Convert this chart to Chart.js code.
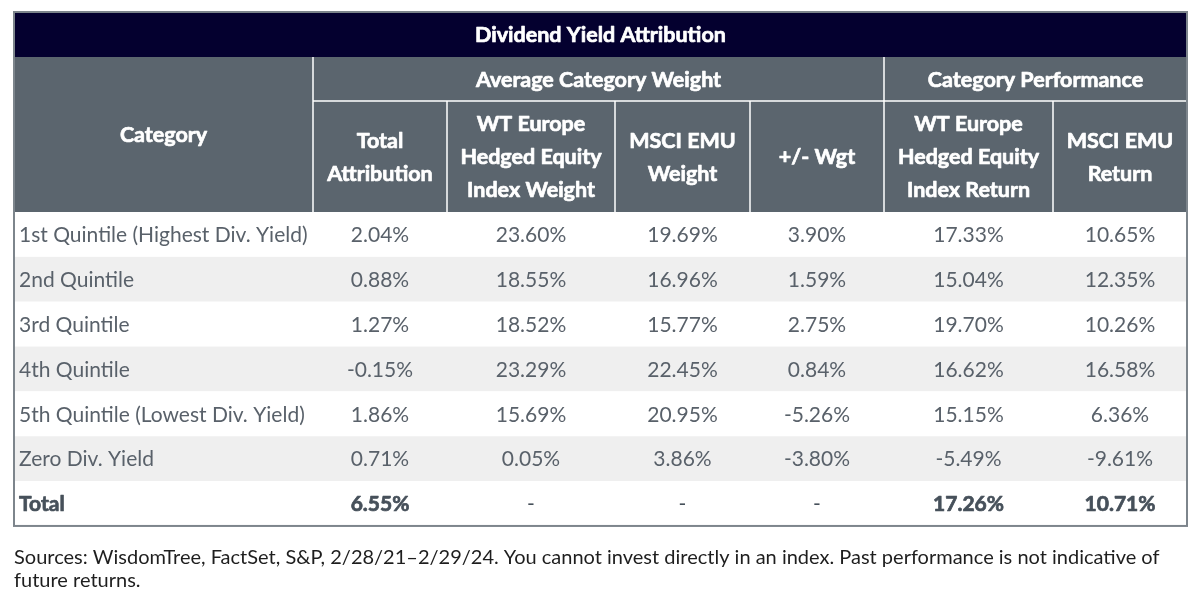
<!DOCTYPE html>
<html>
<head>
<meta charset="utf-8">
<script src="https://cdn.jsdelivr.net/npm/chart.js@4.4.1/dist/chart.umd.min.js"></script>
<style>
  html, body { margin: 0; padding: 0; background: #ffffff; }
  #wrap { position: relative; width: 1200px; height: 614px; }
</style>
</head>
<body>
<div id="wrap"><canvas id="attributionTable"></canvas></div>
<script>
// Table data
const categories = ['1st Quintile (Highest Div. Yield)', '2nd Quintile', '3rd Quintile', '4th Quintile', '5th Quintile (Lowest Div. Yield)', 'Zero Div. Yield'];
const totalAttribution = [2.04, 0.88, 1.27, -0.15, 1.86, 0.71];
const wtIndexWeight = [23.60, 18.55, 18.52, 23.29, 15.69, 0.05];
const msciWeight = [19.69, 16.96, 15.77, 22.45, 20.95, 3.86];
const wgtDiff = [3.90, 1.59, 2.75, 0.84, -5.26, -3.80];
const wtIndexReturn = [17.33, 15.04, 19.70, 16.62, 15.15, -5.49];
const msciReturn = [10.65, 12.35, 10.26, 16.58, 6.36, -9.61];
const totalRow = [6.55, null, null, null, 17.26, 10.71];

const tableTitle = 'Dividend Yield Attribution';
const groupHeaders = ['Average Category Weight', 'Category Performance'];
const columnHeaders = [
    ['Total', 'Attribution'],
    ['WT Europe', 'Hedged Equity', 'Index Weight'],
    ['MSCI EMU', 'Weight'],
    ['+/- Wgt'],
    ['WT Europe', 'Hedged Equity', 'Index Return'],
    ['MSCI EMU', 'Return']
];
const sourceLines = [
    'Sources: WisdomTree, FactSet, S&P, 2/28/21\u20132/29/24. You cannot invest directly in an index. Past performance is not indicative of',
    'future returns.'
];

const valueColumns = [totalAttribution, wtIndexWeight, msciWeight, wgtDiff, wtIndexReturn, msciReturn];

// Layout (in canvas units, mapped via the chart scales)
const layout = {
    left: 14, right: 1187, top: 12,
    titleBottom: 57, groupBottom: 101, headerBottom: 212,
    rowH: 44.85,
    colEdges: [14, 313, 447, 615, 750, 884, 1053, 1187],
    groupSplit: 884
};

const fontFamily = "Lato, 'Noto Sans', sans-serif";
const fmt = v => (v === null ? '-' : v.toFixed(2) + '%');

// bold text drawn with a thin outline to get a heavier weight
function heavyText(ctx, text, x, y, color) {
    ctx.fillStyle = color;
    ctx.strokeStyle = color;
    ctx.lineWidth = 0.7;
    ctx.lineJoin = 'round';
    ctx.strokeText(text, x, y);
    ctx.fillText(text, x, y);
}

const tablePlugin = {
    id: 'tablePlugin',
    afterDraw(chart) {
        const { ctx } = chart;
        const sx = chart.scales.x, sy = chart.scales.y;
        const X = v => sx.getPixelForValue(v);
        const Y = v => sy.getPixelForValue(v);
        const L = layout;
        const nRows = categories.length + 1;
        const tableBottom = L.headerBottom + L.rowH * nRows;

        ctx.save();
        // title bar
        ctx.fillStyle = '#04002f';
        ctx.fillRect(X(L.left), Y(L.top), X(L.right) - X(L.left), Y(L.titleBottom) - Y(L.top));
        // header block
        ctx.fillStyle = '#5b656e';
        ctx.fillRect(X(L.left), Y(L.titleBottom), X(L.right) - X(L.left), Y(L.headerBottom) - Y(L.titleBottom));

        // body rows
        for (let r = 0; r < nRows; r++) {
            ctx.fillStyle = r % 2 === 1 ? '#efefef' : '#ffffff';
            const y0 = Y(L.headerBottom + r * L.rowH);
            const y1 = Y(L.headerBottom + (r + 1) * L.rowH);
            ctx.fillRect(X(L.left), y0, X(L.right) - X(L.left), y1 - y0);
        }

        // header separators
        ctx.strokeStyle = '#ffffff';
        ctx.lineWidth = 1.5;
        ctx.beginPath();
        ctx.moveTo(X(L.colEdges[1]), Y(L.titleBottom));
        ctx.lineTo(X(L.colEdges[1]), Y(L.headerBottom));
        ctx.moveTo(X(L.groupSplit), Y(L.titleBottom));
        ctx.lineTo(X(L.groupSplit), Y(L.headerBottom));
        ctx.moveTo(X(L.colEdges[1]), Y(L.groupBottom));
        ctx.lineTo(X(L.right), Y(L.groupBottom));
        for (let c = 2; c < L.colEdges.length - 1; c++) {
            ctx.moveTo(X(L.colEdges[c]), Y(L.groupBottom));
            ctx.lineTo(X(L.colEdges[c]), Y(L.headerBottom));
        }
        ctx.stroke();

        // outer border
        ctx.strokeStyle = '#7d858c';
        ctx.lineWidth = 2;
        ctx.strokeRect(X(L.left), Y(L.top), X(L.right) - X(L.left), Y(tableBottom) - Y(L.top));

        // header text
        const white = '#ffffff';
        ctx.textAlign = 'center';
        ctx.textBaseline = 'middle';
        ctx.font = 'bold 21.5px ' + fontFamily;
        heavyText(ctx, tableTitle, X((L.left + L.right) / 2), Y((L.top + L.titleBottom) / 2 + 1), white);
        heavyText(ctx, 'Category', X((L.colEdges[0] + L.colEdges[1]) / 2), Y((L.titleBottom + L.headerBottom) / 2 + 1), white);
        heavyText(ctx, groupHeaders[0], X((L.colEdges[1] + L.groupSplit) / 2), Y((L.titleBottom + L.groupBottom) / 2 + 1), white);
        heavyText(ctx, groupHeaders[1], X((L.groupSplit + L.right) / 2), Y((L.titleBottom + L.groupBottom) / 2 + 1), white);
        const lineGap = 33;
        const midHead = (L.groupBottom + L.headerBottom) / 2 + 1;
        columnHeaders.forEach((lines, i) => {
            const cx = (L.colEdges[i + 1] + L.colEdges[i + 2]) / 2;
            const start = midHead - (lines.length - 1) * lineGap / 2;
            lines.forEach((t, k) => heavyText(ctx, t, X(cx), Y(start + k * lineGap), white));
        });

        // body text
        for (let r = 0; r < nRows; r++) {
            const isTotal = r === categories.length;
            const cy = Y(L.headerBottom + (r + 0.5) * L.rowH + 1);
            const color = isTotal ? '#46505a' : '#59616a';
            ctx.fillStyle = color;
            ctx.font = (isTotal ? 'bold ' : '') + '21px ' + fontFamily;
            ctx.textAlign = 'left';
            if (isTotal) heavyText(ctx, 'Total', X(L.left + 5), cy, color);
            else ctx.fillText(categories[r], X(L.left + 5), cy);
            ctx.textAlign = 'center';
            valueColumns.forEach((col, i) => {
                const v = isTotal ? totalRow[i] : col[r];
                const cx = (L.colEdges[i + 1] + L.colEdges[i + 2]) / 2;
                ctx.font = (isTotal && v !== null ? 'bold ' : '') + '21px ' + fontFamily;
                if (isTotal && v !== null) heavyText(ctx, fmt(v), X(cx), cy, color);
                else { ctx.fillStyle = color; ctx.fillText(fmt(v), X(cx), cy); }
            });
        }

        // source note
        ctx.fillStyle = '#1e1e1e';
        ctx.textAlign = 'left';
        ctx.font = '20px ' + fontFamily;
        sourceLines.forEach((t, k) => ctx.fillText(t, X(L.left), Y(558 + k * 23)));
        ctx.restore();
    }
};

new Chart(document.getElementById('attributionTable'), {
    type: 'scatter',
    data: { datasets: [{ data: [], pointRadius: 0 }] },
    options: {
        responsive: true,
        maintainAspectRatio: false,
        animation: false,
        layout: { padding: 0 },
        plugins: { legend: { display: false }, tooltip: { enabled: false } },
        scales: {
            x: { type: 'linear', min: 0, max: 1200, display: false },
            y: { type: 'linear', min: 0, max: 614, reverse: true, display: false }
        }
    },
    plugins: [tablePlugin]
});
</script>
</body>
</html>
